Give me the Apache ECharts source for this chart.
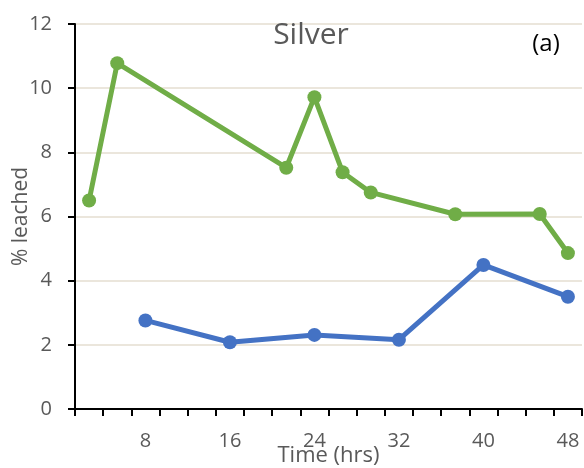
<!DOCTYPE html>
<html>
<head>
<meta charset="utf-8">
<script src="https://cdn.jsdelivr.net/npm/echarts@6/dist/echarts.min.js"></script>
<style>
  html, body { margin: 0; padding: 0; background: #fff; }
  #chart { width: 584px; height: 468px; }
</style>
</head>
<body>
<div id="chart"></div>
<script>
// Sampling times (hrs), one category per slot
const times = ['2.7', '5.3', '8', '10.7', '13.3', '16', '18.7', '21.3', '24',
               '26.7', '29.3', '32', '34.7', '37.3', '40', '42.7', '45.3', '48'];
// Only every third slot carries a label
const labelledTimes = ['8', '16', '24', '32', '40', '48'];

// % silver leached; null where no sample was taken
const greenSeries = [6.50, 10.78, null, null, null, null, null, 7.52, 9.72,
                     7.38, 6.75, null, null, 6.07, null, null, 6.08, 4.86];
const blueSeries  = [null, null, 2.76, null, null, 2.08, null, null, 2.31,
                     null, null, 2.16, null, null, 4.49, null, null, 3.50];

const yTicks = [0, 2, 4, 6, 8, 10, 12];

const FONT = '"Open Sans", "Noto Sans", sans-serif';
const GREY = '#595959';

const chart = echarts.init(document.getElementById('chart'), null, { renderer: 'canvas' });

chart.setOption({
  animation: false,
  backgroundColor: '#ffffff',
  title: [
    {
      text: 'Silver',
      left: 311, top: 20, textAlign: 'center', padding: 0,
      textStyle: { fontFamily: FONT, fontSize: 30, fontWeight: 'normal', color: GREY }
    },
    {
      text: '(a)',
      left: 546, top: 32, textAlign: 'center', padding: 0,
      textStyle: { fontFamily: FONT, fontSize: 24, fontWeight: 'normal', color: '#000' }
    }
  ],
  grid: { left: 75, right: 2, top: 24, bottom: 59, containLabel: false, outerBoundsMode: 'none' },
  xAxis: {
    type: 'category',
    data: times,
    boundaryGap: true,
    name: 'Time (hrs)',
    nameLocation: 'middle',
    nameGap: 36,
    nameMoveOverlap: false,
    nameTextStyle: { fontFamily: FONT, fontSize: 22, color: GREY },
    axisLine: { show: true, lineStyle: { color: '#000', width: 2 } },
    axisTick: { show: true, interval: 0, length: 7, lineStyle: { color: '#000', width: 2 } },
    axisLabel: {
      interval: 0,
      margin: 22,
      fontFamily: FONT, fontSize: 20, color: GREY,
      formatter: v => labelledTimes.includes(v) ? v : ''
    },
    splitLine: { show: false }
  },
  yAxis: {
    type: 'value',
    min: yTicks[0],
    max: yTicks[yTicks.length - 1],
    interval: 2,
    name: '% leached',
    nameLocation: 'middle',
    nameRotate: 90,
    nameGap: 43,
    nameMoveOverlap: false,
    nameTextStyle: { fontFamily: FONT, fontSize: 21, color: GREY },
    axisLine: { show: true, lineStyle: { color: '#000', width: 2 } },
    axisTick: { show: true, length: 7, lineStyle: { color: '#000', width: 2 } },
    axisLabel: { margin: 23, fontFamily: FONT, fontSize: 20, color: GREY },
    splitLine: { show: true, lineStyle: { color: '#ebe6dc', width: 2 } }
  },
  series: [
    {
      name: 'green',
      type: 'line',
      data: greenSeries,
      connectNulls: true,
      symbol: 'circle',
      symbolSize: 14,
      lineStyle: { color: '#70AD47', width: 5 },
      itemStyle: { color: '#70AD47' }
    },
    {
      name: 'blue',
      type: 'line',
      data: blueSeries,
      connectNulls: true,
      symbol: 'circle',
      symbolSize: 14,
      lineStyle: { color: '#4472C4', width: 5 },
      itemStyle: { color: '#4472C4' }
    }
  ]
});
</script>
</body>
</html>
